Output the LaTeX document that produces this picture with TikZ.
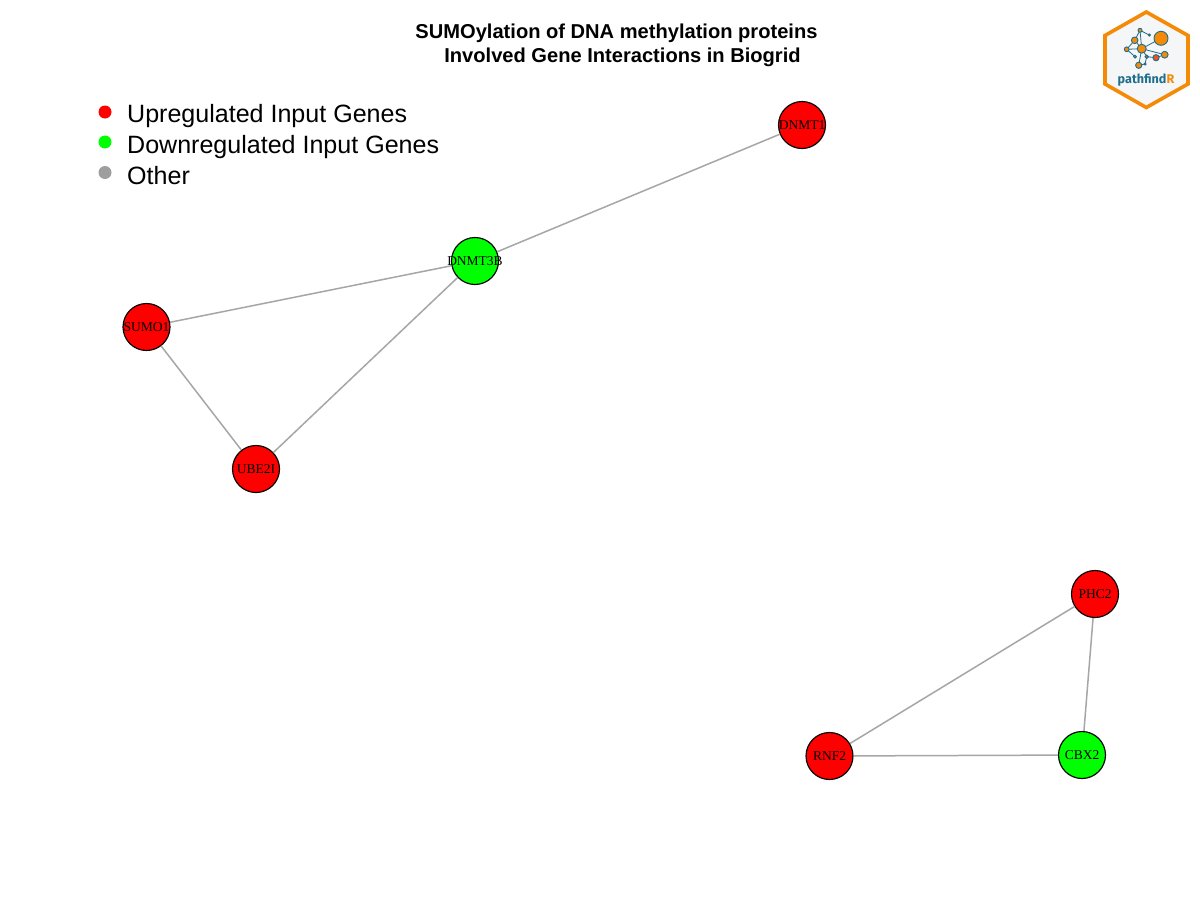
\documentclass[tikz,border=0pt]{standalone}
\usepackage{fontspec}
\setmainfont{Liberation Sans}
\newfontfamily\genefont{Liberation Serif}
\newfontfamily\logofont{Fira Sans}
\definecolor{edgegrey}{HTML}{A6A6A6}
\definecolor{othergrey}{HTML}{9E9E9E}
\definecolor{logoorange}{HTML}{F58A07}
\definecolor{logoteal}{HTML}{1F6E8C}
\definecolor{logored}{HTML}{F0531C}
\definecolor{logobg}{HTML}{F4F6F8}
\newcommand{\genelabel}[1]{\makebox[0pt][c]{#1}}
\tikzset{
  gene/.style={circle,draw=black,line width=1.15pt,minimum size=47pt,inner sep=0pt,text=black,font=\genefont\fontsize{13.5pt}{14pt}\selectfont},
  link/.style={draw=edgegrey,line width=1.5pt},
  legdot/.style={circle,minimum size=13pt,inner sep=0pt},
  legtext/.style={anchor=base west,inner sep=0pt,font=\fontsize{25.05pt}{27pt}\selectfont},
  titletext/.style={anchor=base,inner sep=0pt,font=\bfseries\fontsize{20.1pt}{22pt}\selectfont},
  lnode/.style={draw=logoteal,line width=0.9pt,fill=logoorange},
  ledge/.style={draw=logoteal,line width=0.8pt}
}
\begin{document}
\begin{tikzpicture}[x=1pt,y=-1pt]
\useasboundingbox[fill=white] (0,0) rectangle (1200,900);
% title
\node[titletext] (t1) at (616.5,38) {SUMOylation of DNA methylation proteins};
\node[titletext] (t2) at (622.5,62.3) {Involved Gene Interactions in Biogrid};
% legend
\node[legdot,fill=red] (l1) at (105,112) {};
\node[legdot,fill=green] (l2) at (105,142) {};
\node[legdot,fill=othergrey] (l3) at (105,172.5) {};
\node[legtext] (lt1) at (127,122.5) {Upregulated Input Genes};
\node[legtext] (lt2) at (127,153) {Downregulated Input Genes};
\node[legtext] (lt3) at (127,184) {Other};
% genes
\node[gene,fill=red] (DNMT1) at (802,125) {\genelabel{DNMT1}};
\node[gene,fill=green] (DNMT3B) at (475,261) {\genelabel{DNMT3B}};
\node[gene,fill=red] (SUMO1) at (146.5,327) {\genelabel{SUMO1}};
\node[gene,fill=red] (UBE2I) at (256,469) {\genelabel{UBE2I}};
\node[gene,fill=red] (PHC2) at (1095,594) {\genelabel{PHC2}};
\node[gene,fill=red] (RNF2) at (829.5,756) {\genelabel{RNF2}};
\node[gene,fill=green] (CBX2) at (1082,755) {\genelabel{CBX2}};
\draw[link] (DNMT3B) -- (DNMT1);
\draw[link] (SUMO1) -- (DNMT3B);
\draw[link] (UBE2I) -- (DNMT3B);
\draw[link] (SUMO1) -- (UBE2I);
\draw[link] (RNF2) -- (PHC2);
\draw[link] (PHC2) -- (CBX2);
\draw[link] (RNF2) -- (CBX2);
% logo
\draw[draw=logoorange,fill=logobg,line width=3.6pt,line join=miter]
  (1146.3,12) -- (1188,35.5) -- (1188,84) -- (1146.3,107.5) -- (1105,84) -- (1105,35.5) -- cycle;
\draw[ledge] (1161,38.3) -- (1141.7,48.7) -- (1134.7,40.3) -- (1140,30.3) -- (1149.3,35);
\draw[ledge] (1140,30.3) -- (1141.7,48.7);
\draw[ledge] (1126.7,49.3) -- (1141.7,48.7) -- (1164.7,54.7);
\draw[ledge] (1126.7,49.3) -- (1134.7,40.3);
\draw[ledge] (1126.7,49.3) -- (1135,56.7);
\draw[ledge] (1141.7,48.7) -- (1138.7,65.3);
\draw[ledge] (1141.7,48.7) -- (1146.7,56.7) -- (1156,57.7) -- (1164.7,54.7);
\draw[ledge] (1146.7,56.7) -- (1145,64) -- (1138.7,65.3);
\path[lnode] (1161,38.3) circle (7);
\path[lnode] (1141.7,48.7) circle (4.5);
\path[lnode] (1134.7,40.3) circle (3.3);
\path[lnode] (1140,30.3) circle (2);
\path[lnode] (1149.3,35) circle (1.1);
\path[lnode] (1126.7,49.3) circle (2.4);
\path[lnode] (1135,56.7) circle (1.4);
\path[lnode] (1138.7,65.3) circle (3.1);
\path[lnode,fill=logored] (1146.7,56.7) circle (1.7);
\path[lnode,fill=logored] (1145,64) circle (1.1);
\path[lnode,fill=logored] (1156,57.7) circle (3.1);
\path[lnode] (1164.7,54.7) circle (3.4);
\node[inner sep=0pt,font=\logofont\bfseries\fontsize{12.6pt}{13pt}\selectfont,text=logoteal] (logotext) at (1146,80.5) {pathfind\textcolor{logoorange}{R}};
\end{tikzpicture}
\end{document}
